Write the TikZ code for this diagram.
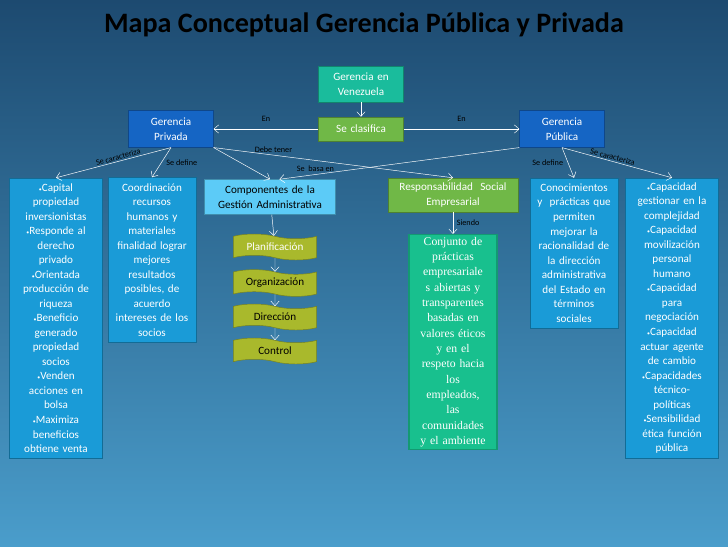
\documentclass[tikz,border=0pt]{standalone}
\usepackage{fontspec}
\setmainfont{Carlito}
\newfontfamily\serifface{Liberation Serif}
\usetikzlibrary{arrows.meta, positioning, shapes.symbols}
\definecolor{bgtop}{HTML}{1D4A70}
\definecolor{bgbot}{HTML}{4A9DCB}
\definecolor{darkblue}{HTML}{1565C4}
\definecolor{cyanbox}{HTML}{1A9BD7}
\definecolor{lightcyan}{HTML}{5CCBF7}
\definecolor{greenbox}{HTML}{70B847}
\definecolor{tealbox}{HTML}{1ABC9C}
\definecolor{mintbox}{HTML}{18C08E}
\definecolor{olivebox}{HTML}{A9B92C}
\tikzset{
  box/.style={draw=#1!70!black, fill=#1, text=white, align=center, font=\fontsize{9.5}{12.4}\selectfont, inner sep=2pt},
  conn/.style={draw=white, -{Straight Barb[length=4pt,width=7pt]}, thin},
  lbl/.style={font=\fontsize{7}{8}\selectfont, text=black, inner sep=1pt},
  wave/.style={tape, tape bend top=out and in, tape bend bottom=out and in, tape bend height=4pt, draw=olivebox!70!black, fill=olivebox, minimum width=2.5cm, minimum height=0.78cm, font=\fontsize{9.5}{11}\selectfont}
}
\newcommand{\bul}{\textbullet}
\begin{document}
\begin{tikzpicture}[x=0.03cm, y=-0.03cm]
\shade[top color=bgtop, bottom color=bgbot] (0,0) rectangle (728,546);
\useasboundingbox (0,0) rectangle (728,546);
% title
\node[font=\bfseries\fontsize{24}{27}\selectfont, text=black] (title) at (364,25) {Mapa Conceptual Gerencia Pública y Privada};
% top level
\node[box=tealbox, text width=2.4cm, minimum height=1.08cm] (venez) at (361,84) {Gerencia en\\Venezuela};
\node[box=greenbox, text width=2.4cm, minimum height=0.72cm] (clasif) at (361,129) {Se clasifica};
\node[box=darkblue, text width=2.4cm, minimum height=1.1cm] (priv) at (171,129) {Gerencia\\Privada};
\node[box=darkblue, text width=2.4cm, minimum height=1.1cm] (publ) at (562,129) {Gerencia\\Pública};
% lower boxes
\node[box=cyanbox, text width=2.65cm, minimum height=8.4cm] (capital) at (56,318) {{\tiny\bul}Capital\\propiedad\\inversionistas\\{\tiny\bul}Responde al\\derecho\\privado\\{\tiny\bul}Orientada\\producción de\\riqueza\\{\tiny\bul}Beneficio\\generado\\propiedad\\socios\\{\tiny\bul}Venden\\acciones en\\bolsa\\{\tiny\bul}Maximiza\\beneficios\\obtiene venta};
\node[box=cyanbox, text width=2.5cm, minimum height=4.95cm] (coord) at (152,260) {Coordinación\\recursos\\humanos y\\materiales\\finalidad lograr\\mejores\\resultados\\posibles, de\\acuerdo\\intereses de los\\socios};
\node[box=lightcyan, text=black, text width=3.8cm, minimum height=1.05cm] (compon) at (270,197) {Componentes de la\\Gestión Administrativa};
\node[wave] (plan) at (275,247) {\color{white}Planificación};
\node[wave] (organ) at (275,283) {Organización};
\node[wave] (direc) at (275,317) {Dirección};
\node[wave] (contr) at (275,351) {Control};
\node[box=greenbox, text width=3.75cm, minimum height=1.02cm] (resp) at (453,195) {Responsabilidad\ \ Social\\Empresarial};
\node[box=mintbox, text width=2.5cm, minimum height=6.33cm, font=\serifface\fontsize{10}{13.1}\selectfont, draw=mintbox!80!black, line width=1pt] (conj) at (453,342) {Conjunto de\\prácticas\\empresariale\\s abiertas y\\transparentes\\basadas en\\valores éticos\\y en el\\respeto hacia\\los\\empleados,\\las\\comunidades\\y el ambiente};
\node[box=cyanbox, text width=2.5cm, minimum height=4.5cm] (conoc) at (574,253) {Conocimientos\\y\ \ prácticas que\\permiten\\mejorar la\\racionalidad de\\la dirección\\administrativa\\del Estado en\\términos\\sociales};
\node[box=cyanbox, text width=2.65cm, minimum height=8.4cm] (capac) at (672,318) {{\tiny\bul}Capacidad\\gestionar en la\\complejidad\\{\tiny\bul}Capacidad\\movilización\\personal\\humano\\{\tiny\bul}Capacidad\\para\\negociación\\{\tiny\bul}Capacidad\\actuar agente\\de cambio\\{\tiny\bul}Capacidades\\técnico-\\políticas\\{\tiny\bul}Sensibilidad\\ética función\\pública};
% connectors
\draw[conn] (venez) -- (clasif);
\draw[conn] (clasif) -- node[lbl, above=5pt] {En} (priv);
\draw[conn] (clasif) -- node[lbl, above=5pt] {En} (publ);
\draw[conn] (priv.south) -- node[lbl, sloped, above, pos=0.45] {Se caracteriza} (capital.north);
\draw[conn] (priv.south) -- node[lbl, right=3pt] {Se define} (coord.north);
\draw[conn] (priv.south east) -- (compon.north);
\draw[conn] (priv.south east) -- node[lbl, pos=0.25, above=1pt] {Debe tener} (resp.north);
\draw[conn] (publ.south west) -- node[lbl, pos=0.85, above=1pt] {Se\ \ basa en} ([xshift=8pt]compon.north);
\draw[conn] (publ.south) -- node[lbl, left=3pt] {Se define} (conoc.north);
\draw[conn] (publ.south) -- node[lbl, sloped, above, pos=0.45] {Se caracteriza} (capac.north);
\draw[conn] (compon) -- (plan);
\draw[conn] (plan) -- (organ);
\draw[conn] (organ) -- (direc);
\draw[conn] (direc) -- (contr);
\draw[conn] (resp) -- node[lbl, right=2pt] {Siendo} (conj);
\end{tikzpicture}
\end{document}
